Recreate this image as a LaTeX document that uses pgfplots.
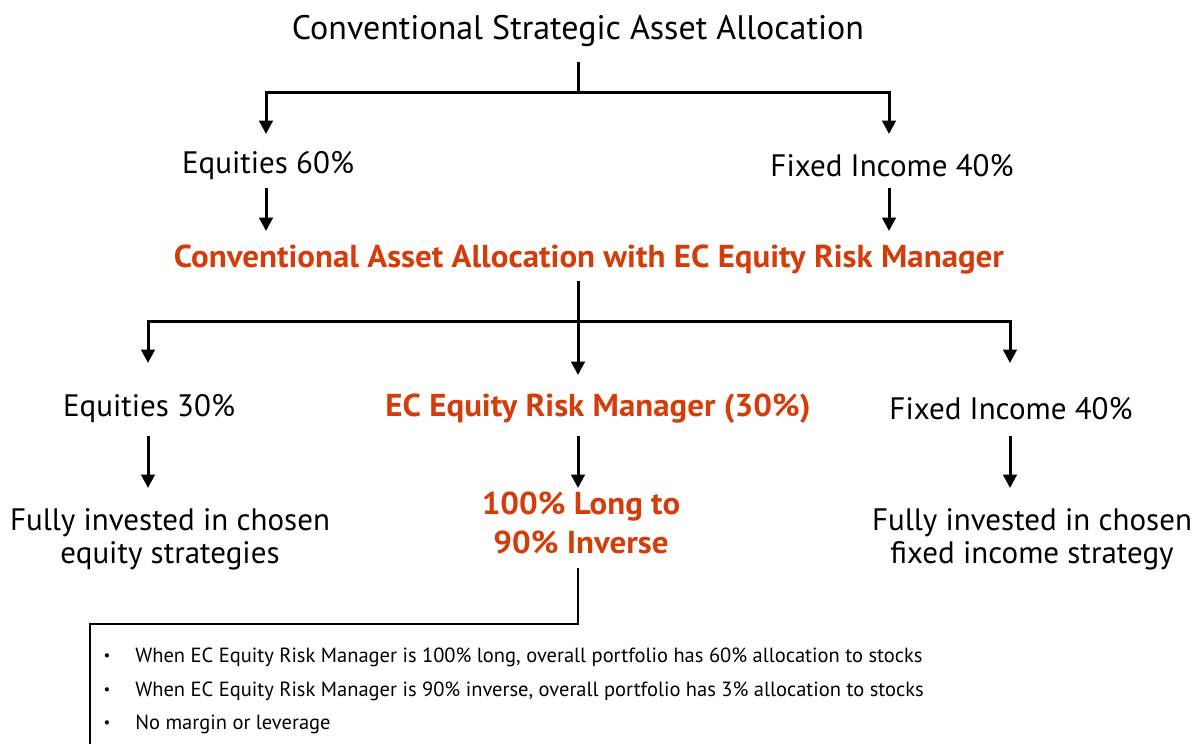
\documentclass[border=0pt]{standalone}
\usepackage{pgfplots}
\pgfplotsset{compat=1.18}
\usepackage{fontspec}
\setmainfont{PT Sans}
\usetikzlibrary{arrows.meta}
\definecolor{ecred}{RGB}{212,60,10}
\newcommand{\rw}[1]{\scalebox{1.04}[1]{#1}}
\begin{document}
\begin{tikzpicture}
\begin{axis}[width=717pt,height=446.4pt,scale only axis,
  xmin=0,xmax=1195,ymin=0,ymax=744,y dir=reverse,hide axis,clip=false]
\coordinate (sw) at (axis cs:0,744);
\coordinate (ne) at (axis cs:1195,0);
\pgfplotsset{every axis plot/.append style={black,line width=1.8pt,no markers}}
% level 1
\addplot[black] coordinates {(578,62)(578,92)};
\addplot[{Triangle[length=8pt,width=8pt]}-{Triangle[length=8pt,width=8pt]}] coordinates {(266,134)(266,92)(889,92)(889,134)};
% level 1 -> red
\addplot[-{Triangle[length=8pt,width=8pt]}] coordinates {(266,188)(266,231)};
\addplot[-{Triangle[length=8pt,width=8pt]}] coordinates {(889,188)(889,231)};
% level 2
\addplot[-{Triangle[length=8pt,width=8pt]}] coordinates {(578,281)(578,375)};
\addplot[{Triangle[length=8pt,width=8pt]}-{Triangle[length=8pt,width=8pt]}] coordinates {(148,363)(148,321)(1010,321)(1010,363)};
% level 3
\addplot[-{Triangle[length=8pt,width=8pt]}] coordinates {(148,436)(148,488)};
\addplot[-{Triangle[length=8pt,width=8pt]}] coordinates {(578,436)(578,488)};
\addplot[-{Triangle[length=8pt,width=8pt]}] coordinates {(1010,436)(1010,488)};
% bottom
\addplot[line width=1.5pt] coordinates {(578,568)(578,624)(90,624)(90,750)};
% text
\node[font=\fontsize{20.4}{24}\selectfont] at (axis cs:578,31) {Conventional Strategic Asset Allocation};
\node[font=\fontsize{18.6}{22}\selectfont] at (axis cs:268,166) {Equities 60\%};
\node[font=\fontsize{18.6}{22}\selectfont] at (axis cs:892,166) {Fixed Income 40\%};
\node[font=\fontsize{19}{23}\selectfont\bfseries,text=ecred] at (axis cs:589,260) {\rw{Conventional Asset Allocation with EC Equity Risk Manager}};
\node[font=\fontsize{18.6}{22}\selectfont] at (axis cs:149,409) {Equities 30\%};
\node[font=\fontsize{19}{23}\selectfont\bfseries,text=ecred] at (axis cs:598,409) {\rw{EC Equity Risk Manager (30\%)}};
\node[font=\fontsize{18.6}{22}\selectfont] at (axis cs:1011,409) {Fixed Income 40\%};
\node[font=\fontsize{18.6}{19.8pt}\selectfont,align=center] at (axis cs:170,539) {Fully invested in chosen\\equity strategies};
\node[font=\fontsize{19}{23.4pt}\selectfont\bfseries,text=ecred,align=center] at (axis cs:581,523) {\rw{100\% Long to}\\\rw{90\% Inverse}};
\node[font=\fontsize{18.6}{19.8pt}\selectfont,align=center] at (axis cs:1032,539) {Fully invested in chosen\\fixed income strategy};
\node[font=\fontsize{9}{10}\selectfont] at (axis cs:107,657) {•};
\node[font=\fontsize{9}{10}\selectfont] at (axis cs:107,691) {•};
\node[font=\fontsize{9}{10}\selectfont] at (axis cs:107,724) {•};
\node[font=\fontsize{12.3}{14}\selectfont,anchor=west,inner sep=0pt] at (axis cs:135,657) {When EC Equity Risk Manager is 100\% long, overall portfolio has 60\% allocation to stocks};
\node[font=\fontsize{12.3}{14}\selectfont,anchor=west,inner sep=0pt] at (axis cs:135,691) {When EC Equity Risk Manager is 90\% inverse, overall portfolio has 3\% allocation to stocks};
\node[font=\fontsize{12.3}{14}\selectfont,anchor=west,inner sep=0pt] at (axis cs:135,724) {No margin or leverage};
\end{axis}
\pgfresetboundingbox
\path[use as bounding box] (sw) rectangle (ne);
\end{tikzpicture}
\end{document}
